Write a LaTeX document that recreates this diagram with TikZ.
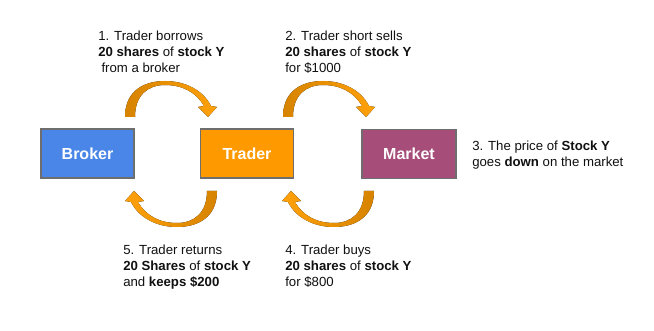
\documentclass[tikz,border=0pt]{standalone}
\usepackage{fontspec}
\setmainfont{Liberation Sans}
\definecolor{brokerblue}{HTML}{4A86E8}
\definecolor{traderorange}{HTML}{FF9900}
\definecolor{marketpurple}{HTML}{A64D79}
\definecolor{boxborder}{HTML}{6E6E6E}
\definecolor{arrowdark}{HTML}{D68300}
\definecolor{arrowlight}{HTML}{FFA10A}
\definecolor{labeltext}{HTML}{111111}
\tikzset{
  actor/.style={draw=boxborder, line width=0.9pt, minimum width=93*0.75pt, minimum height=49*0.75pt,
    inner sep=0pt, text=white, font=\fontsize{12}{14}\selectfont\bfseries},
  steplabel/.style={anchor=base west, align=left, inner sep=0pt, text=labeltext,
    font=\fontsize{9.9}{12}\selectfont},
  toparrow/.style={left color=arrowdark, right color=arrowlight, draw=none},
  botarrow/.style={left color=arrowlight, right color=arrowdark, draw=none}
}
\newcommand{\TopArrowPath}{(125,117) .. controls (125,90) and (145,81) .. (165,81)
  .. controls (185,81) and (203,90) .. (211,106) -- (217,107) -- (208,117) -- (198,107) -- (204,106)
  .. controls (196,92) and (182,85) .. (165,85) .. controls (148,85) and (135,95) .. (135,117) -- cycle}
\newcommand{\BotArrowPath}{(217,191) .. controls (217,218) and (197,227) .. (177,227)
  .. controls (157,227) and (139,218) .. (131,202) -- (125,201) -- (134,191) -- (144,201) -- (138,202)
  .. controls (146,216) and (160,223) .. (177,223) .. controls (194,223) and (207,213) .. (207,191) -- cycle}
\begin{document}
\begin{tikzpicture}[x=0.75pt, y=-0.75pt]
\useasboundingbox[fill=white] (0,0) rectangle (654,331);
% boxes
\node[actor, fill=brokerblue] (broker) at (87.5,153.5) {Broker};
\node[actor, fill=traderorange] (trader) at (247,153.5) {Trader};
\node[actor, fill=marketpurple, minimum width=94*0.75pt] (market) at (409,154) {Market};
% curved arrows
\fill[toparrow] \TopArrowPath;
\begin{scope}[shift={(158,0)}]
  \fill[toparrow] \TopArrowPath;
\end{scope}
\fill[botarrow] \BotArrowPath;
\begin{scope}[shift={(157,0)}]
  \fill[botarrow] \BotArrowPath;
\end{scope}
% labels (anchored at the baseline of the last line)
\node[steplabel] (l1) at (98,73) {1. Trader borrows\\\textbf{20 shares} of \textbf{stock Y}\\\hspace*{0.25em}from a broker};
\node[steplabel] (l2) at (285,73) {2. Trader short sells\\\textbf{20 shares} of \textbf{stock Y}\\for \$1000};
\node[steplabel] (l3) at (472,167) {3. The price of \textbf{Stock Y}\\goes \textbf{down} on the market};
\node[steplabel] (l4) at (285,287) {4. Trader buys\\\textbf{20 shares} of \textbf{stock Y}\\for \$800};
\node[steplabel] (l5) at (123,287) {5. Trader returns\\\textbf{20 Shares} of \textbf{stock Y}\\and \textbf{keeps \$200}};
\end{tikzpicture}
\end{document}
